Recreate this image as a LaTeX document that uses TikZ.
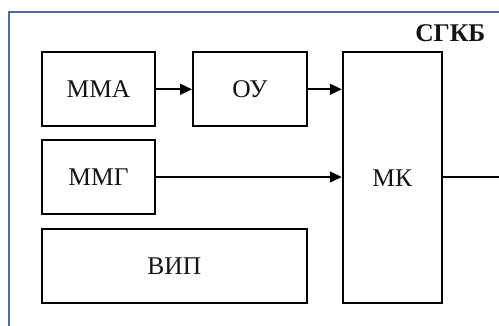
\documentclass[tikz,border=0pt]{standalone}
\usepackage{fontspec}
\setmainfont{Liberation Serif}
\usetikzlibrary{arrows.meta}
\definecolor{framecol}{RGB}{79,112,158}
\definecolor{inkcol}{RGB}{20,20,20}
\begin{document}
\begin{tikzpicture}[x=1pt,y=-1pt,
  box/.style={draw, line width=1.9pt, inner sep=0pt, text=inkcol, font=\fontsize{25.5}{30}\selectfont},
  conn/.style={line width=1.7pt, -{Triangle[length=12pt,width=11pt]}},
  plain/.style={line width=1.7pt}]
\useasboundingbox (0,0) rectangle (499,326);
\clip (0,0) rectangle (499,326);
\draw[framecol, line width=1.9pt] (9,11.7) rectangle (530,360);
\node[box, minimum width=113.3pt, minimum height=74pt] (mma) at (98.5,89.3) {ММА};
\node[box, minimum width=113.7pt, minimum height=74pt] (oy) at (249.8,89.3) {ОУ};
\node[box, minimum width=99pt, minimum height=251pt] (mk) at (392.2,177.8) {МК};
\node[box, minimum width=113.3pt, minimum height=74pt] (mmg) at (98.5,177) {ММГ};
\node[box, minimum width=264.7pt, minimum height=74.3pt] (vip) at (174.3,266.2) {ВИП};
\node[anchor=base east, text=inkcol, font=\fontsize{25.5}{30}\selectfont\bfseries, inner sep=0pt] (title) at (485.5,41.7) {СГКБ};
\coordinate (out) at (505,177);
\draw[conn] (mma.east) -- (oy.west);
\draw[conn] (oy.east) -- (oy.east -| mk.west);
\draw[conn] (mmg.east) -- (mmg.east -| mk.west);
\draw[plain] (mk.east |- out) -- (out);
\end{tikzpicture}
\end{document}
